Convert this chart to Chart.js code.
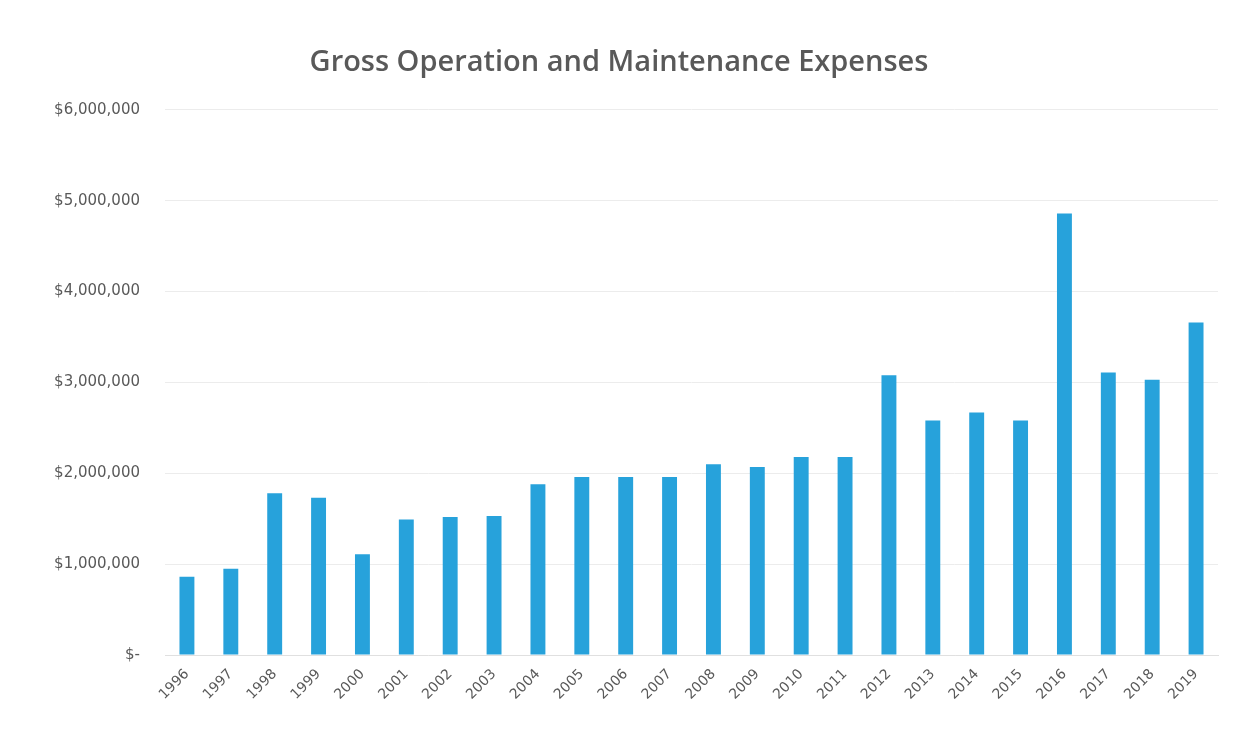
<!DOCTYPE html>
<html>
<head>
<meta charset="utf-8">
<script src="https://cdn.jsdelivr.net/npm/chart.js@4.4.0/dist/chart.umd.min.js"></script>
<style>
  html, body { margin: 0; padding: 0; background: #fff; }
  #wrap { width: 1246px; height: 734px; }
</style>
</head>
<body>
<div id="wrap"><canvas id="omChart"></canvas></div>
<script>
// years on the x axis
const years = ['1996', '1997', '1998', '1999', '2000', '2001', '2002', '2003', '2004', '2005', '2006', '2007',
  '2008', '2009', '2010', '2011', '2012', '2013', '2014', '2015', '2016', '2017', '2018', '2019'];

// gross O&M expenses, dollars
const expenses = [860000, 950000, 1780000, 1730000, 1110000, 1490000, 1520000, 1530000, 1880000, 1960000, 1960000, 1960000,
  2100000, 2070000, 2180000, 2180000, 3080000, 2580000, 2670000, 2580000, 4860000, 3110000, 3030000, 3660000];

// y axis ticks
const yTicks = [0, 1000000, 2000000, 3000000, 4000000, 5000000, 6000000];

const chartTitle = 'Gross Operation and Maintenance Expenses';

function money(v) {
  if (v === 0) return '$-';
  return '$' + v.toLocaleString('en-US');
}

const ctx = document.getElementById('omChart').getContext('2d');
new Chart(ctx, {
  type: 'bar',
  data: {
    labels: years,
    datasets: [{
      label: 'Expenses',
      data: expenses,
      backgroundColor: '#27a2db',
      barPercentage: 0.68,
      categoryPercentage: 0.5
    }]
  },
  options: {
    responsive: true,
    maintainAspectRatio: false,
    animation: false,
    layout: { padding: { top: 44, right: 28, bottom: 8, left: 20 } },
    plugins: {
      legend: { display: false },
      tooltip: { enabled: false },
      title: {
        display: true,
        text: chartTitle,
        color: '#595959',
        font: { family: 'Open Sans', size: 29, weight: '600' },
        padding: { top: 1, bottom: 30 }
      }
    },
    scales: {
      x: {
        grid: { display: false },
        border: { color: '#e0e0e0' },
        afterFit: function (scale) { scale.height = 71; },
        ticks: {
          color: '#595959',
          font: { family: 'DejaVu Sans', size: 14 },
          minRotation: 45,
          maxRotation: 45,
          autoSkip: false
        }
      },
      y: {
        min: 0,
        max: 6000000,
        afterBuildTicks: function (scale) {
          scale.ticks = yTicks.map(v => ({ value: v }));
        },
        afterFit: function (scale) { scale.width = 145; },
        grid: { color: '#ececec', drawTicks: false },
        border: { display: false },
        ticks: {
          color: '#595959',
          padding: 25,
          font: { family: 'DejaVu Sans', size: 15 },
          callback: function (v) { return money(v); }
        }
      }
    }
  }
});
</script>
</body>
</html>
